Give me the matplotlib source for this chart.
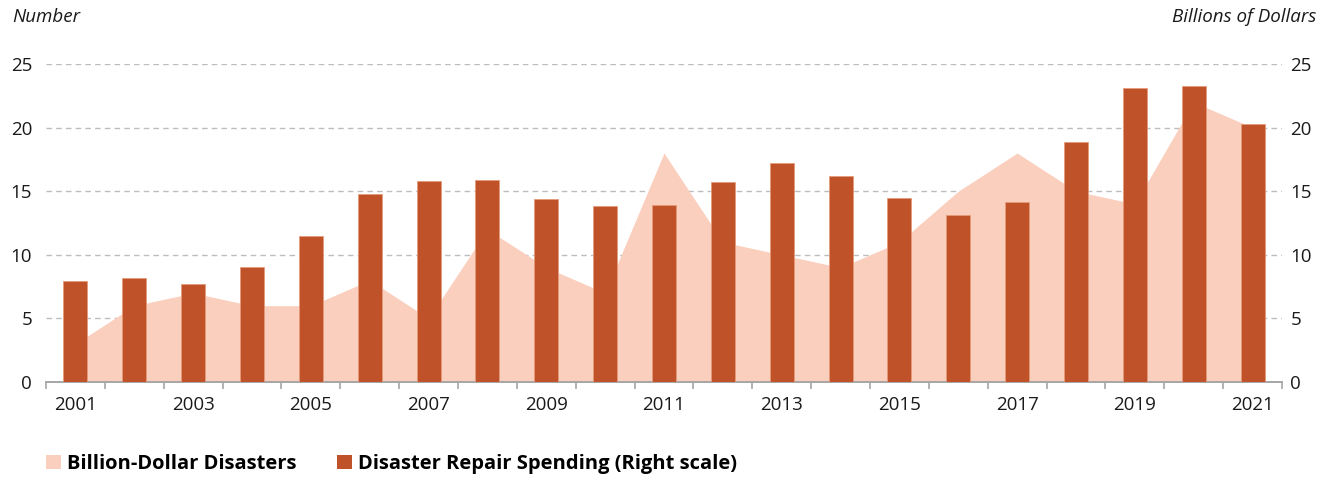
import numpy as np
import matplotlib
matplotlib.use("Agg")
import matplotlib.pyplot as plt
from matplotlib.patches import Patch

plt.rcParams['font.family'] = ['Open Sans', 'DejaVu Sans']

# data
years = list(range(2001, 2022))
disasters = [3, 6, 7, 6, 6, 8, 5, 12, 9, 7, 18, 11, 10, 9, 11, 15, 18, 15, 14, 22, 20]
spending = [7.95, 8.15, 7.7, 9.05, 11.5, 14.8, 15.8, 15.85, 14.4, 13.8, 13.95,
            15.7, 17.2, 16.2, 14.5, 13.1, 14.15, 18.9, 23.1, 23.3, 20.3]
yticks = [0, 5, 10, 15, 20, 25]

area_color = '#FBCFBD'
bar_color = '#C0522A'
text_color = '#1a1a1a'

fig = plt.figure(figsize=(13.28, 4.78), dpi=100)
ax = fig.add_axes([46 / 1328, 1 - 382 / 478, (1282 - 46) / 1328, (382 - 64) / 478])
x = np.arange(len(years))

# area on the left scale
ax.fill_between(x, 0, disasters, color=area_color, linewidth=0, zorder=1)
ax.set_xlim(-0.5, len(years) - 0.5)
ax.set_ylim(0, 25)
ax.set_yticks(yticks)
ax.yaxis.grid(True, color='#bdbdbd', linestyle=(0, (4, 3)), linewidth=1)
ax.set_axisbelow(True)

# bars on the right scale
ax2 = ax.twinx()
ax2.bar(x, spending, width=0.41, color=bar_color, edgecolor='#e59a7a',
        linewidth=0.6, zorder=3)
ax2.set_ylim(0, 25)
ax2.set_yticks(yticks)

for a in (ax, ax2):
    for s in ('top', 'left', 'right'):
        a.spines[s].set_visible(False)
    a.spines['bottom'].set_color('#a6a6a6')
    a.spines['bottom'].set_linewidth(1.2)
    a.tick_params(axis='y', length=0, labelsize=13.5, labelcolor=text_color)

ax.tick_params(axis='y', pad=10)
ax2.tick_params(axis='y', pad=6)

ax.set_xticks(x[::2])
ax.set_xticklabels([str(y) for y in years[::2]])
ax.set_xticks(np.arange(-0.5, len(years)), minor=True)
ax.tick_params(axis='x', which='major', length=0, pad=10, labelsize=13.5,
               labelcolor=text_color)
ax.tick_params(axis='x', which='minor', length=5, width=1.2, color='#a6a6a6')

fig.text(12 / 1328, 1 - 17 / 478, 'Number', fontsize=13.5, style='italic',
         color=text_color, va='center', ha='left')
fig.text(1316 / 1328, 1 - 17 / 478, 'Billions of Dollars', fontsize=13.5,
         style='italic', color=text_color, va='center', ha='right')

handles = [Patch(facecolor=area_color, edgecolor='none'),
           Patch(facecolor=bar_color, edgecolor='none')]
labels = ['Billion-Dollar Disasters', 'Disaster Repair Spending (Right scale)']
fig.legend(handles, labels, loc='center left', bbox_to_anchor=(28 / 1328, 1 - 464 / 478),
           ncol=2, frameon=False, handlelength=0.75, handleheight=0.75,
           handletextpad=0.3, columnspacing=2.0,
           prop={'weight': 'bold', 'size': 14.5})

fig.savefig('out.png', dpi=100)
